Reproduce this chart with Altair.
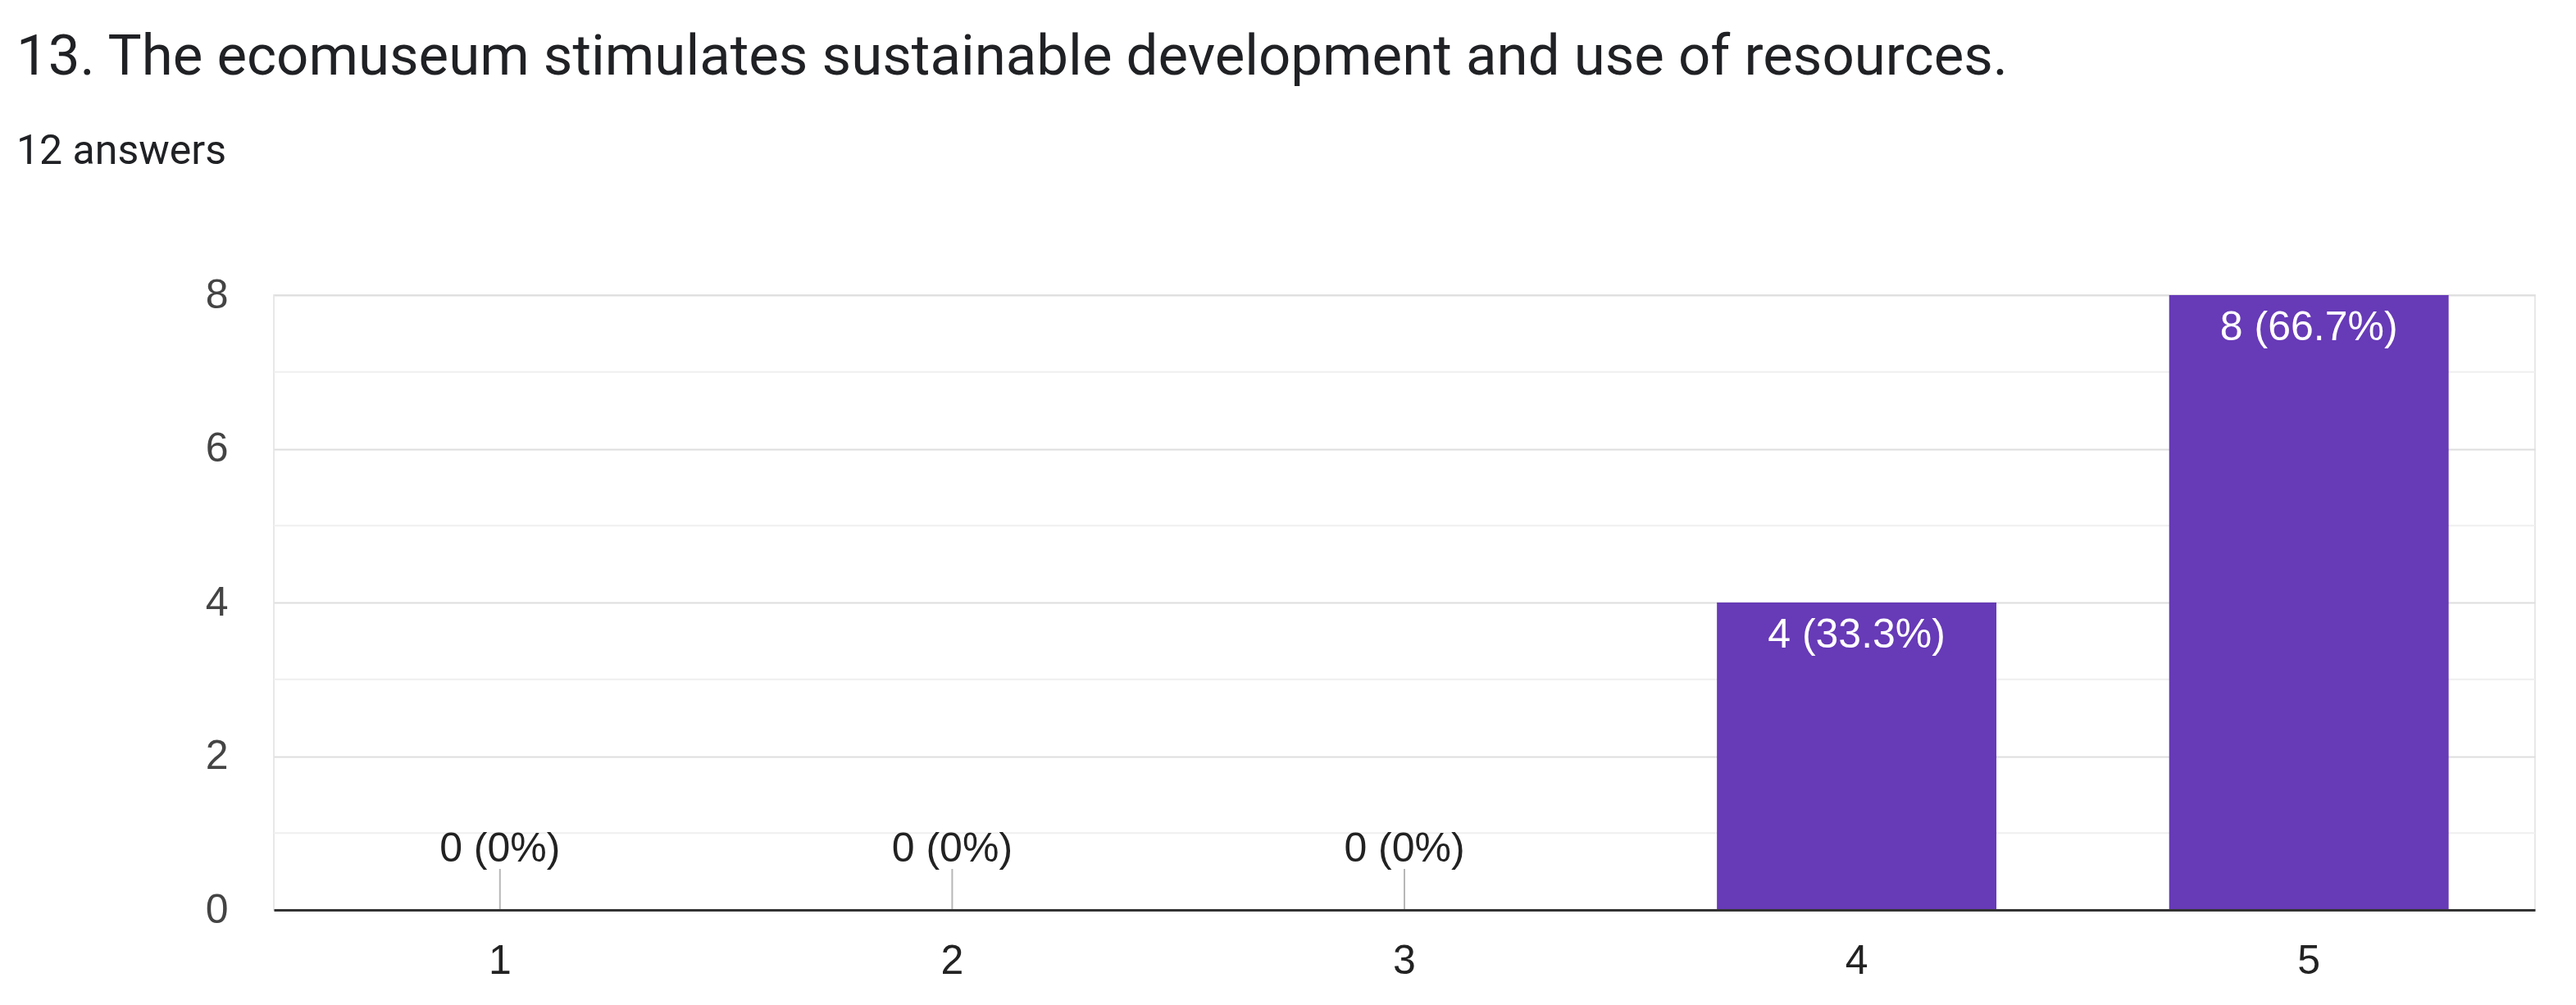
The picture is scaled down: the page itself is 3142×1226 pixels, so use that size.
import altair as alt
import pandas as pd

categories = ["1", "2", "3", "4", "5"]
counts = [0, 0, 0, 4, 8]
total = 12
y_major = [0, 2, 4, 6, 8]
y_minor = [1, 3, 5, 7]
title_text = "13. The ecomuseum stimulates sustainable development and use of resources."
subtitle_text = "12 answers"


def make_label(c):
    v = round(c / total * 100, 1)
    s = f"{v:.1f}".rstrip("0").rstrip(".")
    return f"{c} ({s}%)"


labels = [make_label(c) for c in counts]
df = pd.DataFrame({"cat": categories, "count": counts, "label": labels})
minor_df = pd.DataFrame({"v": y_minor})

W, H = 2758, 750
FONT = "Liberation Sans"
FS = 50
PURPLE = "#673ab7"

y_scale = alt.Scale(domain=[0, 8], nice=False)
y_axis = alt.Axis(
    title=None, values=y_major, format="d", grid=True, gridColor="#dedede", gridWidth=2,
    domain=False, ticks=False, labelFontSize=FS, labelColor="#444444",
    labelFont=FONT, labelPadding=56,
)
x_enc = alt.X(
    "cat:N",
    sort=categories,
    scale=alt.Scale(paddingInner=0.382, paddingOuter=0.191),
    axis=alt.Axis(
        title=None, labelAngle=0, labelFontSize=FS, labelColor="#222222",
        labelFont=FONT, labelPadding=37, ticks=False, domainColor="#333333",
        domainWidth=3, grid=False, zindex=1,
    ),
)

base = alt.Chart(df)

minor = alt.Chart(minor_df).mark_rule(color="#efefef", strokeWidth=2).encode(
    y=alt.Y("v:Q", scale=y_scale, axis=y_axis)
)

bars = base.mark_bar(color=PURPLE).encode(
    x=x_enc, y=alt.Y("count:Q", scale=y_scale, axis=y_axis)
)

stems = base.transform_filter("datum.count == 0").mark_tick(
    orient="vertical", color="#999999", thickness=2, size=50, yOffset=-25
).encode(x=alt.X("cat:N", sort=categories), y=alt.Y("count:Q", scale=y_scale))

inside = base.transform_filter("datum.count > 0").mark_text(
    color="white", baseline="middle", dy=40, fontSize=FS, font=FONT
).encode(x=alt.X("cat:N", sort=categories), y=alt.Y("count:Q", scale=y_scale), text="label:N")

zero_txt = base.transform_filter("datum.count == 0").mark_text(
    color="#222222", baseline="middle", dy=-74, fontSize=FS, font=FONT
).encode(x=alt.X("cat:N", sort=categories), y=alt.Y("count:Q", scale=y_scale), text="label:N")

chart = (
    alt.layer(minor, bars, stems, inside, zero_txt)
    .properties(
        width=W,
        height=H,
        autosize=alt.AutoSizeParams(type="none"),
        padding={"left": 326, "top": 352, "right": 40, "bottom": 100},
        background="white",
        title=alt.TitleParams(
            text=title_text, subtitle=subtitle_text, anchor="start", frame="group",
            dx=-314, fontSize=69, subtitleFontSize=50, font="Roboto", subtitleFont="Roboto",
            fontWeight="normal", color="#202124", subtitleColor="#202124",
            subtitlePadding=55, offset=125,
        ),
    )
    .configure_view(stroke="#e8e8e8", strokeWidth=2)
)

chart.save("out.html", embed_options={"renderer": "svg", "actions": False})
